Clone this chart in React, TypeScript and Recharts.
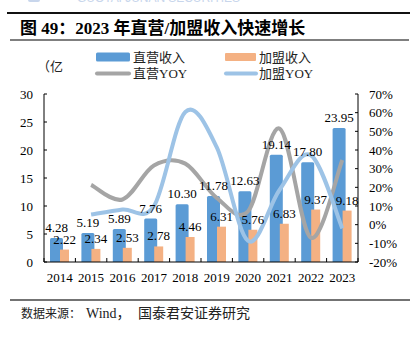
import React from 'react';
import { ComposedChart, Bar, Line, XAxis, YAxis, LabelList } from 'recharts';

const years = ['2014', '2015', '2016', '2017', '2018', '2019', '2020', '2021', '2022', '2023'];
const directRevenue = [4.28, 5.19, 5.89, 7.76, 10.3, 11.78, 12.63, 19.14, 17.8, 23.95];
const franchiseRevenue = [2.22, 2.34, 2.53, 2.78, 4.46, 6.31, 5.76, 6.83, 9.37, 9.18];
const directYoy = [null, 21.3, 13.5, 31.7, 32.7, 14.4, 7.2, 51.5, -7.0, 34.6];
const franchiseYoy = [null, 5.4, 8.1, 9.9, 60.4, 41.5, -8.7, 18.6, 37.2, -2.0];
const leftTicks = [0, 5, 10, 15, 20, 25, 30];
const rightTicks = [-20, -10, 0, 10, 20, 30, 40, 50, 60, 70];
const seriesNames = ['直营收入', '加盟收入', '直营YOY', '加盟YOY'];
const titleText = '图 49：2023 年直营/加盟收入快速增长';
const unitText = '（亿';

const C_BLUE = '#5B9BD5';
const C_ORANGE = '#F4B183';
const C_GRAY = '#A5A5A5';
const C_LBLUE = '#9DC3E6';
const FONT = "'Liberation Serif', 'Times New Roman', 'Noto Sans CJK SC', serif";

const W = 415;
const H = 337;
const PLOT_L = 44;
const PLOT_R = 358;
const PLOT_B = 262;
const BAND = (PLOT_R - PLOT_L) / years.length;

const data = years.map((y, i) => ({
  year: y,
  direct: directRevenue[i],
  franchise: franchiseRevenue[i],
  directYoy: directYoy[i],
  franchiseYoy: franchiseYoy[i],
}));

// Excel-like smoothing (Catmull-Rom converted to cubic Bezier)
const excelSmooth = (context: any) => {
  let pts: number[][] = [];
  return {
    areaStart() {},
    areaEnd() {},
    lineStart() {
      pts = [];
    },
    point(x: number, y: number) {
      pts.push([+x, +y]);
    },
    lineEnd() {
      const n = pts.length;
      if (!n) return;
      context.moveTo(pts[0][0], pts[0][1]);
      if (n === 1) return;
      for (let i = 0; i < n - 1; i++) {
        const p0 = pts[i - 1] || pts[i];
        const p1 = pts[i];
        const p2 = pts[i + 1];
        const p3 = pts[i + 2] || pts[i + 1];
        const c1x = p1[0] + (p2[0] - p0[0]) / 6;
        const c1y = p1[1] + (p2[1] - p0[1]) / 6;
        const c2x = p2[0] - (p3[0] - p1[0]) / 6;
        const c2y = p2[1] - (p3[1] - p1[1]) / 6;
        context.bezierCurveTo(c1x, c1y, c2x, c2y, p2[0], p2[1]);
      }
    },
  };
};

const XTick = (props: any) => {
  const { x, y, payload, index } = props;
  return (
    <g>
      <text x={x} y={y + 20} textAnchor="middle" fontSize={13} fontFamily={FONT} fill="#000">
        {payload.value}
      </text>
      <line x1={x - BAND / 2} x2={x - BAND / 2} y1={PLOT_B} y2={PLOT_B - 4} stroke="#000" />
      {index === years.length - 1 ? (
        <line x1={x + BAND / 2} x2={x + BAND / 2} y1={PLOT_B} y2={PLOT_B - 4} stroke="#000" />
      ) : null}
    </g>
  );
};

const LeftTick = (props: any) => {
  const { y, payload } = props;
  return (
    <g>
      <text x={PLOT_L - 11} y={y} dy="0.35em" textAnchor="end" fontSize={13} fontFamily={FONT} fill="#000">
        {payload.value}
      </text>
      <line x1={PLOT_L} x2={PLOT_L + 3} y1={y} y2={y} stroke="#000" />
    </g>
  );
};

const RightTick = (props: any) => {
  const { y, payload } = props;
  return (
    <g>
      <text x={PLOT_R + 11} y={y} dy="0.35em" textAnchor="start" fontSize={13} fontFamily={FONT} fill="#000">
        {payload.value + '%'}
      </text>
      <line x1={PLOT_R - 3} x2={PLOT_R} y1={y} y2={y} stroke="#000" />
    </g>
  );
};

const fmt = (v: any) => (typeof v === 'number' ? v.toFixed(2) : v);

export default function App() {
  return (
    <div style={{ position: 'absolute', left: 0, top: 0, width: W, height: H, background: '#fff', overflow: 'hidden' }}>
      <svg width={W} height={H} style={{ position: 'absolute', left: 0, top: 0 }}>
        <text x={77} y={2} fontSize={12} fontFamily="'Liberation Sans', sans-serif" fill="#c8d6ec" textLength={163}>
          GUOTAI JUNAN SECURITIES
        </text>
        <rect x={28} y={-2} width={12} height={4} rx={2} fill="#c8d6ec" />
        <line x1={7} x2={410} y1={13} y2={13} stroke="#111" strokeWidth={2} />
        <text x={20} y={33.5} fontSize={17} fontWeight="bold" fontFamily={FONT} fill="#000">
          {titleText}
        </text>
        <line x1={10} x2={409} y1={40} y2={40} stroke="#555" strokeWidth={1.5} />
        <text x={37} y={70.5} fontSize={13} fontFamily={FONT} fill="#222">
          {unitText}
        </text>
        <rect x={96} y={52.5} width={34} height={9} rx={1.5} fill={C_BLUE} />
        <text x={133} y={61.5} fontSize={13} fontFamily={FONT} fill="#222">
          {seriesNames[0]}
        </text>
        <rect x={225} y={53} width={31} height={8} rx={1} fill={C_ORANGE} />
        <text x={259} y={61.5} fontSize={13} fontFamily={FONT} fill="#222">
          {seriesNames[1]}
        </text>
        <line x1={97} x2={129} y1={73.5} y2={73.5} stroke={C_GRAY} strokeWidth={4} strokeLinecap="round" />
        <text x={133} y={78} fontSize={13} fontFamily={FONT} fill="#222">
          {seriesNames[2]}
        </text>
        <line x1={226} x2={256} y1={73.5} y2={73.5} stroke={C_LBLUE} strokeWidth={4} strokeLinecap="round" />
        <text x={259} y={78} fontSize={13} fontFamily={FONT} fill="#222">
          {seriesNames[3]}
        </text>
        <line x1={10} x2={410} y1={300} y2={300} stroke="#444" strokeWidth={1.5} />
        <text y={318} fontFamily={FONT} fill="#222">
          <tspan x={21} fontSize={12}>数据来源：</tspan>
          <tspan x={86} fontSize={14}>Wind，</tspan>
          <tspan x={138} fontSize={14}>国泰君安证券研究</tspan>
        </text>
      </svg>
      <div style={{ position: 'absolute', left: 0, top: 0 }}>
        <ComposedChart
          width={W}
          height={H}
          data={data}
          margin={{ top: 94, right: 7, bottom: 45, left: 4 }}
          barGap={-3}
        >
          <XAxis
            dataKey="year"
            height={30}
            tickLine={false}
            tickSize={0}
            tickMargin={0}
            axisLine={{ stroke: '#000' }}
            tick={<XTick />}
            interval={0}
          />
          <YAxis
            yAxisId="left"
            orientation="left"
            width={40}
            domain={[0, 30]}
            ticks={leftTicks}
            tickLine={false}
            tickSize={0}
            axisLine={{ stroke: '#000' }}
            tick={<LeftTick />}
            interval={0}
          />
          <YAxis
            yAxisId="right"
            orientation="right"
            width={50}
            domain={[-20, 70]}
            ticks={rightTicks}
            tickLine={false}
            tickSize={0}
            axisLine={{ stroke: '#000' }}
            tick={<RightTick />}
            interval={0}
          />
          <Bar yAxisId="left" dataKey="direct" name={seriesNames[0]} fill={C_BLUE} barSize={13} radius={[1.5, 1.5, 0, 0]} isAnimationActive={false}>
            <LabelList dataKey="direct" position="top" offset={6} formatter={fmt} fontSize={13} fontFamily={FONT} fill="#000" />
          </Bar>
          <Bar yAxisId="left" dataKey="franchise" name={seriesNames[1]} fill={C_ORANGE} barSize={9} isAnimationActive={false}>
            <LabelList dataKey="franchise" position="top" offset={6} formatter={fmt} fontSize={13} fontFamily={FONT} fill="#000" />
          </Bar>
          <Line
            yAxisId="right"
            dataKey="directYoy"
            name={seriesNames[2]}
            type={excelSmooth as any}
            stroke={C_GRAY}
            strokeWidth={4}
            dot={false}
            activeDot={false}
            isAnimationActive={false}
          />
          <Line
            yAxisId="right"
            dataKey="franchiseYoy"
            name={seriesNames[3]}
            type={excelSmooth as any}
            stroke={C_LBLUE}
            strokeWidth={4}
            dot={false}
            activeDot={false}
            isAnimationActive={false}
          />
        </ComposedChart>
      </div>
    </div>
  );
}
